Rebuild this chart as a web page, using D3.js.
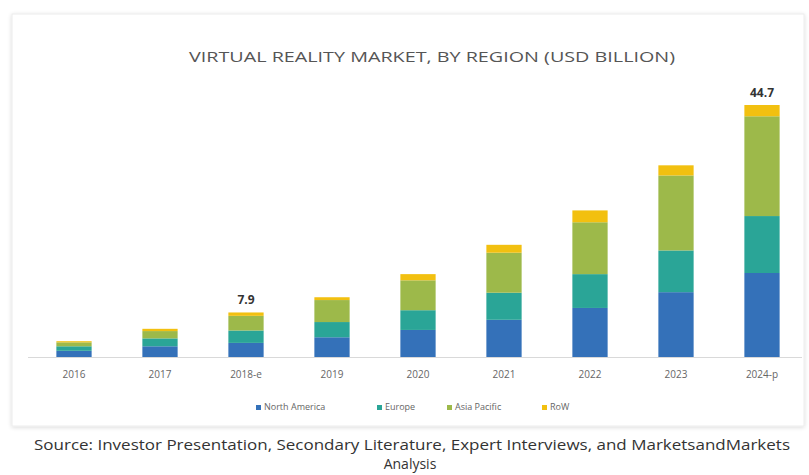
<!DOCTYPE html>
<html>
<head>
<meta charset="utf-8">
<script src="https://cdn.jsdelivr.net/npm/d3@7"></script>
<style>
  html, body { margin: 0; padding: 0; background: #fff; }
  svg { display: block; }
</style>
</head>
<body>
<svg id="chart" width="809" height="475"></svg>
<script>
const years = ["2016", "2017", "2018-e", "2019", "2020", "2021", "2022", "2023", "2024-p"];
const seriesNames = ["North America", "Europe", "Asia Pacific", "RoW"];
const northAmerica = [1.1, 1.9, 2.5, 3.5, 4.8, 6.6, 8.7, 11.5, 14.9];
const europe       = [0.8, 1.4, 2.2, 2.7, 3.5, 4.8, 6.0, 7.4, 10.1];
const asiaPacific  = [0.7, 1.3, 2.6, 3.9, 5.3, 7.1, 9.2, 13.3, 17.7];
const row          = [0.2, 0.4, 0.6, 0.5, 1.1, 1.4, 2.1, 1.8, 2.0];
const totalLabels  = [null, null, "7.9", null, null, null, null, null, "44.7"];
const colors = ["#3471b9", "#2aa597", "#9db94a", "#f2c010"];

const svg = d3.select("#chart");
const W = 809, H = 475;

// chart frame with soft shadow
const defs = svg.append("defs");
const f = defs.append("filter").attr("id", "sh").attr("x", "-5%").attr("y", "-5%").attr("width", "110%").attr("height", "110%");
f.append("feGaussianBlur").attr("in", "SourceAlpha").attr("stdDeviation", 2);
f.append("feOffset").attr("dx", 0).attr("dy", 1).attr("result", "b");
f.append("feComponentTransfer").append("feFuncA").attr("type", "linear").attr("slope", 0.15);
const fm = f.append("feMerge");
fm.append("feMergeNode");
fm.append("feMergeNode").attr("in", "SourceGraphic");

svg.append("rect").attr("x", 12).attr("y", 14).attr("width", 792).attr("height", 412)
  .attr("fill", "#fff").attr("stroke", "#ececec").attr("filter", "url(#sh)");

// title
svg.append("text").attr("x", 432).attr("y", 62).attr("text-anchor", "middle")
  .attr("font-family", "'Liberation Sans Narrow', 'Open Sans', sans-serif")
  .attr("font-size", 15).attr("fill", "#555")
  .attr("textLength", 486).attr("lengthAdjust", "spacingAndGlyphs")
  .text("VIRTUAL REALITY MARKET, BY REGION (USD BILLION)");

const data = years.map((y, i) => ({
  year: y,
  "North America": northAmerica[i],
  "Europe": europe[i],
  "Asia Pacific": asiaPacific[i],
  "RoW": row[i]
}));
const stack = d3.stack().keys(seriesNames)(data);

const x = d3.scaleBand().domain(years).range([31, 805]).paddingInner(0.59).paddingOuter(0.295);
const y = d3.scaleLinear().domain([0, 44.7]).range([357, 105]);

// bars
svg.append("g").selectAll("g").data(stack).join("g")
  .attr("fill", (d, i) => colors[i])
  .selectAll("rect").data(d => d).join("rect")
  .attr("x", d => x(d.data.year))
  .attr("y", d => y(d[1]))
  .attr("width", x.bandwidth())
  .attr("height", d => y(d[0]) - y(d[1]));

// baseline axis
const xAxis = d3.axisBottom(x).tickSize(0).tickPadding(14);
const ax = svg.append("g").attr("transform", "translate(0,357)").call(xAxis);
ax.select(".domain").attr("stroke", "#d9d9d9").attr("d", "M28,0.5H802");
ax.selectAll("text").attr("font-family", "'Liberation Sans Narrow', 'Open Sans', sans-serif")
  .attr("font-size", 10).attr("fill", "#666");

// total labels
const totals = years.map((yr, i) => northAmerica[i] + europe[i] + asiaPacific[i] + row[i]);
svg.append("g").selectAll("text").data(years.filter((d, i) => totalLabels[i]))
  .join("text")
  .attr("x", d => x(d) + x.bandwidth() / 2)
  .attr("y", d => y(totals[years.indexOf(d)]) - 8)
  .attr("text-anchor", "middle")
  .attr("font-family", "'Liberation Sans Narrow', 'Open Sans', sans-serif")
  .attr("font-weight", "bold").attr("font-size", 12).attr("fill", "#333")
  .text(d => totalLabels[years.indexOf(d)]);

// legend
const legendX = [256, 377, 447, 542];
const lg = svg.append("g").selectAll("g").data(seriesNames).join("g")
  .attr("transform", (d, i) => `translate(${legendX[i]},409)`);
lg.append("rect").attr("x", 0).attr("y", -4).attr("width", 5).attr("height", 5)
  .attr("fill", (d, i) => colors[i]);
lg.append("text").attr("x", 8).attr("y", 1)
  .attr("font-family", "'Liberation Sans Narrow', 'Open Sans', sans-serif")
  .attr("font-size", 9).attr("fill", "#666").text(d => d);

// source
svg.append("text").attr("x", 412).attr("y", 450).attr("text-anchor", "middle")
  .attr("font-family", "'Liberation Sans Narrow', 'Open Sans', sans-serif")
  .attr("font-size", 14).attr("fill", "#333")
  .attr("textLength", 756).attr("lengthAdjust", "spacingAndGlyphs")
  .text("Source: Investor Presentation, Secondary Literature, Expert Interviews, and MarketsandMarkets");
svg.append("text").attr("x", 410).attr("y", 469).attr("text-anchor", "middle")
  .attr("font-family", "'Liberation Sans Narrow', 'Open Sans', sans-serif")
  .attr("font-size", 14).attr("fill", "#333")
  .text("Analysis");
</script>
</body>
</html>
